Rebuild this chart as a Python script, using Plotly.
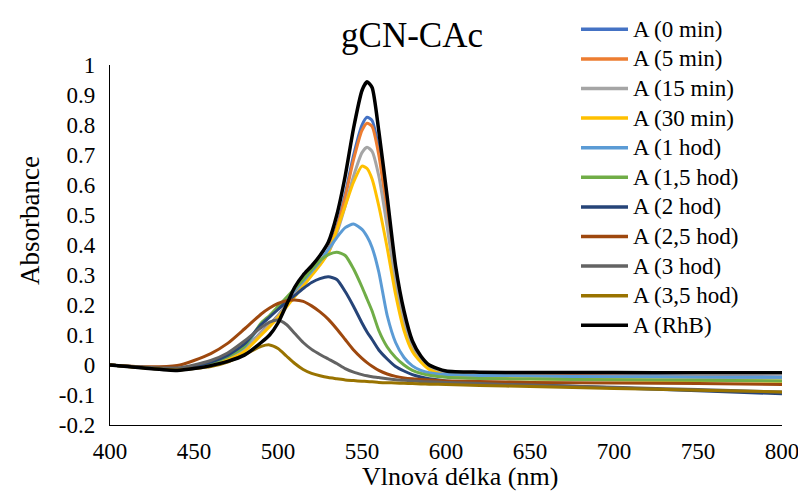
import plotly.graph_objects as go

wavelength = [400, 420, 440, 450, 460, 470, 480, 490, 495, 500, 505, 510, 515, 520, 525, 530, 535, 540, 545, 550,
              553, 556, 560, 565, 570, 575, 580, 585, 590, 600, 620, 650, 700, 750, 800]

a_0min = [0.000, -0.008, -0.014, -0.007, 0.005, 0.022, 0.050, 0.110, 0.135, 0.165, 0.200, 0.235, 0.270, 0.305, 0.340, 0.385, 0.460, 0.570, 0.700, 0.800,
          0.826, 0.815, 0.720, 0.520, 0.310, 0.160, 0.065, 0.020, -0.005, -0.025, -0.031, -0.034, -0.036, -0.038, -0.040]
a_5min = [0.000, -0.008, -0.014, -0.007, 0.005, 0.022, 0.050, 0.108, 0.133, 0.163, 0.198, 0.233, 0.268, 0.303, 0.338, 0.382, 0.455, 0.560, 0.685, 0.782,
          0.806, 0.795, 0.700, 0.505, 0.300, 0.155, 0.062, 0.018, -0.006, -0.026, -0.032, -0.035, -0.037, -0.039, -0.041]
a_15min = [0.000, -0.008, -0.014, -0.007, 0.005, 0.022, 0.050, 0.108, 0.133, 0.163, 0.198, 0.233, 0.268, 0.302, 0.336, 0.375, 0.440, 0.530, 0.630, 0.708,
           0.726, 0.712, 0.630, 0.460, 0.270, 0.140, 0.055, 0.015, -0.008, -0.028, -0.034, -0.037, -0.039, -0.041, -0.043]
a_30min = [0.000, -0.009, -0.015, -0.008, 0.003, 0.018, 0.045, 0.100, 0.128, 0.158, 0.193, 0.228, 0.263, 0.298, 0.333, 0.375, 0.450, 0.530, 0.610, 0.663,
           0.655, 0.620, 0.530, 0.390, 0.235, 0.115, 0.045, 0.010, -0.015, -0.035, -0.042, -0.046, -0.049, -0.052, -0.054]
a_1h = [0.000, -0.008, -0.013, -0.006, 0.007, 0.028, 0.060, 0.135, 0.160, 0.190, 0.220, 0.250, 0.280, 0.312, 0.345, 0.385, 0.425, 0.458, 0.470, 0.452,
        0.428, 0.392, 0.310, 0.165, 0.075, 0.025, -0.003, -0.018, -0.026, -0.032, -0.035, -0.037, -0.039, -0.040, -0.041]
a_15h = [0.000, -0.008, -0.013, -0.006, 0.007, 0.028, 0.062, 0.140, 0.165, 0.195, 0.225, 0.255, 0.285, 0.318, 0.348, 0.368, 0.376, 0.365, 0.320, 0.260,
         0.220, 0.180, 0.115, 0.060, 0.025, 0.000, -0.018, -0.028, -0.034, -0.041, -0.045, -0.047, -0.049, -0.051, -0.053]
a_2h = [0.000, -0.008, -0.012, -0.004, 0.010, 0.032, 0.070, 0.135, 0.160, 0.185, 0.210, 0.232, 0.255, 0.275, 0.288, 0.294, 0.285, 0.245, 0.195, 0.140,
        0.110, 0.085, 0.050, 0.020, -0.005, -0.020, -0.032, -0.040, -0.046, -0.053, -0.060, -0.066, -0.076, -0.086, -0.096]
a_25h = [0.000, -0.006, -0.002, 0.015, 0.038, 0.072, 0.120, 0.170, 0.190, 0.205, 0.214, 0.217, 0.212, 0.197, 0.177, 0.152, 0.120, 0.085, 0.050, 0.022,
         0.008, -0.004, -0.018, -0.030, -0.038, -0.043, -0.046, -0.048, -0.050, -0.053, -0.055, -0.058, -0.060, -0.062, -0.065]
a_3h = [0.000, -0.007, -0.010, 0.000, 0.015, 0.040, 0.080, 0.125, 0.143, 0.150, 0.135, 0.105, 0.075, 0.052, 0.035, 0.020, 0.005, -0.012, -0.024, -0.032,
        -0.036, -0.039, -0.042, -0.046, -0.049, -0.051, -0.053, -0.055, -0.056, -0.058, -0.062, -0.067, -0.074, -0.082, -0.090]
a_35h = [0.000, -0.010, -0.017, -0.012, -0.005, 0.010, 0.035, 0.062, 0.067, 0.055, 0.030, 0.005, -0.015, -0.028, -0.036, -0.042, -0.046, -0.050, -0.052, -0.054,
         -0.055, -0.056, -0.058, -0.059, -0.060, -0.061, -0.062, -0.063, -0.064, -0.065, -0.068, -0.072, -0.078, -0.084, -0.090]
a_rhb = [0.000, -0.010, -0.018, -0.012, -0.002, 0.012, 0.033, 0.075, 0.100, 0.140, 0.200, 0.260, 0.300, 0.330, 0.365, 0.410, 0.500, 0.630, 0.790, 0.915,
         0.944, 0.925, 0.780, 0.560, 0.330, 0.180, 0.080, 0.030, 0.000, -0.020, -0.024, -0.025, -0.025, -0.026, -0.026]

series_names = ["A (0 min)", "A (5 min)", "A (15 min)", "A (30 min)", "A (1 hod)", "A (1,5 hod)",
                "A (2 hod)", "A (2,5 hod)", "A (3 hod)", "A (3,5 hod)", "A (RhB)"]
series_values = [a_0min, a_5min, a_15min, a_30min, a_1h, a_15h, a_2h, a_25h, a_3h, a_35h, a_rhb]
series_colors = ["#4472C4", "#ED7D31", "#A5A5A5", "#FFC000", "#5B9BD5", "#70AD47",
                 "#264478", "#9E480E", "#636363", "#997300", "#000000"]

x_ticks = [400, 450, 500, 550, 600, 650, 700, 750, 800]
y_ticks = [-0.2, -0.1, 0, 0.1, 0.2, 0.3, 0.4, 0.5, 0.6, 0.7, 0.8, 0.9, 1]
y_ticktext = ["-0.2", "-0.1", "0", "0.1", "0.2", "0.3", "0.4", "0.5", "0.6", "0.7", "0.8", "0.9", "1"]

chart_title = "gCN-CAc"
x_title = "Vlnová délka (nm)"
y_title = "Absorbance"

FONT = "Liberation Serif"
# the page body has an 8px default margin, so the figure is drawn 8px smaller and
# every window-pixel position below is shifted by OFF
OFF = 8
W, H = 806 - OFF, 493 - OFF
ML, MT = 110 - OFF, 65 - OFF
MR, MB = W - (782 - OFF), H - (425 - OFF)
PW, PH = W - ML - MR, H - MT - MB

fig = go.Figure()
for name, vals, col in zip(series_names, series_values, series_colors):
    fig.add_trace(go.Scatter(
        x=wavelength, y=vals, name=name, mode="lines", showlegend=False,
        line=dict(color=col, width=3.5 if col == "#000000" else 3, shape="spline", smoothing=0.6),
    ))


def px_x(px):
    return (px - OFF - ML) / PW


def px_y(py):
    return (H - MB - (py - OFF)) / PH


# Excel-style legend with long line samples
shapes = []
annotations = []
for i, (name, col) in enumerate(zip(series_names, series_colors)):
    yc = 29.3 + i * 29.6
    shapes.append(dict(type="line", xref="paper", yref="paper",
                       x0=px_x(581), x1=px_x(628), y0=px_y(yc), y1=px_y(yc),
                       line=dict(color=col, width=3.5)))
    annotations.append(dict(text=name, xref="paper", yref="paper", x=px_x(631), y=px_y(yc),
                            xanchor="left", yanchor="middle", showarrow=False,
                            font=dict(family=FONT, size=23, color="black")))

# axis titles (placed as in the reference, slightly off-centre)
annotations.append(dict(text=x_title, xref="paper", yref="paper", x=px_x(460), y=px_y(476),
                        xanchor="center", yanchor="middle", showarrow=False, borderpad=0,
                        font=dict(family=FONT, size=26, color="black")))
annotations.append(dict(text=y_title, xref="paper", yref="paper", x=px_x(30), y=px_y(221),
                        xanchor="center", yanchor="middle", showarrow=False, textangle=-90,
                        font=dict(family=FONT, size=27, color="black")))

fig.update_layout(
    width=W, height=H,
    margin=dict(l=ML, r=MR, t=MT, b=MB),
    paper_bgcolor="white", plot_bgcolor="white",
    font=dict(family=FONT, size=23, color="black"),
    title=dict(text=chart_title, x=(412 - OFF) / W, xref="container", xanchor="center",
               y=1 - (35 - OFF) / H, yref="container", yanchor="middle",
               font=dict(family=FONT, size=35, color="black")),
    showlegend=False,
    shapes=shapes,
    annotations=annotations,
    xaxis=dict(range=[400, 800], tickvals=x_ticks, showgrid=False, zeroline=False, automargin=False,
               showline=True, linecolor="black", linewidth=1.3, ticks="", ticklabelstandoff=5,
               tickfont=dict(family=FONT, size=23)),
    yaxis=dict(range=[-0.2, 1.0], tickvals=y_ticks, ticktext=y_ticktext, showgrid=False, zeroline=False,
               automargin=False,
               showline=True, linecolor="black", linewidth=1.3, ticks="", ticklabelstandoff=9,
               tickfont=dict(family=FONT, size=23)),
)

fig.write_html("out.html")
